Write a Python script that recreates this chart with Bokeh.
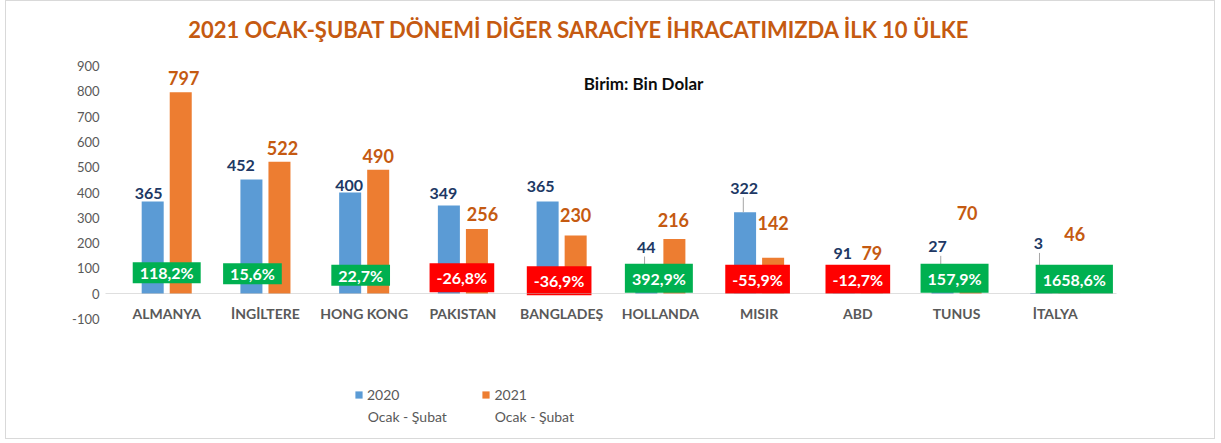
from bokeh.plotting import figure
from bokeh.models import (ColumnDataSource, Range1d, FactorRange, FixedTicker, Legend, LegendItem,
                          Label, CDSView, IndexFilter)
from bokeh.transform import dodge
from bokeh.core.properties import value
from bokeh.embed import file_html
from bokeh.resources import INLINE

# ---------------- data ----------------
countries = ["ALMANYA", "İNGİLTERE", "HONG KONG", "PAKISTAN", "BANGLADEŞ",
             "HOLLANDA", "MISIR", "ABD", "TUNUS", "İTALYA"]
v2020 = [365, 452, 400, 349, 365, 44, 322, 91, 27, 3]
v2021 = [797, 522, 490, 256, 230, 216, 142, 79, 70, 46]
change_pct = ["118,2%", "15,6%", "22,7%", "-26,8%", "-36,9%",
              "392,9%", "-55,9%", "-12,7%", "157,9%", "1658,6%"]
y_ticks = [-100, 0, 100, 200, 300, 400, 500, 600, 700, 800, 900]
series_years = ["2020", "2021"]
series_period = "Ocak - Şubat"
title_text = "2021 OCAK-ŞUBAT DÖNEMİ DİĞER SARACİYE İHRACATIMIZDA İLK  10 ÜLKE"
unit_text = "Birim: Bin Dolar"

# ---------------- label layout (pixel nudges, as placed in the original) ----------------
lbl20_dx = [-4, -10.5, -1, -5.5, -7, 0, -1, -1, -5, -3]
lbl20_dy = [-7.5, -13.5, -7, -11.6, -15, -35, -24, -17, -40, -49]
lbl21_dx = [3, 3, 0, 5.5, 0, -1, 0, 0, -3.5, 5.5]
lbl21_dy = [-14.5, -14, -14, -15, -21, -19, -35, -21, -63, -48]
box_dx = [0, -13, -3.5, -1, -2.5, -1.5, -1.5, 0, -2, 19]
box_dy = [-21, -20, -18.5, -16, -13, -15.5, -14.5, -14.5, -15.5, -14.5]

FONT = "Lato"
BLUE, ORANGE = "#5B9BD5", "#ED7D31"
GREEN, RED = "#00B050", "#FF0000"
GREY_TXT = "#595959"

Y_START, Y_END = -561, 1140
FRAME_H = 430  # px
PX_PER_UNIT = FRAME_H / (Y_END - Y_START)

# leader lines for labels pulled away from their bars (from bar top to label bottom)
leader_end = [v + ((-dy - 9) / PX_PER_UNIT if -dy > 20 else 0) for v, dy in zip(v2020, lbl20_dy)]

src = ColumnDataSource(dict(
    country=countries, v2020=v2020, v2021=v2021,
    s2020=[str(v) for v in v2020], s2021=[str(v) for v in v2021],
    pct=change_pct,
    box_color=[RED if s.startswith("-") else GREEN for s in change_pct],
    zero=[0] * len(countries),
    l20dx=lbl20_dx, l20dy=lbl20_dy, l21dx=lbl21_dx, l21dy=lbl21_dy,
    bdx=box_dx, bdy=box_dy, lead=leader_end,
))

x_range = FactorRange(factors=countries, range_padding=0.12, range_padding_units="absolute")
p = figure(width=1210, height=439, x_range=x_range, y_range=Range1d(Y_START, Y_END),
           output_backend="svg", toolbar_location=None,
           min_border_left=99, min_border_right=100, min_border_top=4, min_border_bottom=5)
p.outline_line_color = None
p.grid.visible = False
p.background_fill_color = "white"
p.border_fill_color = "white"
p.styles = {"border": "1px solid #D9D9D9", "margin-left": "5px"}

# axes
p.yaxis.ticker = FixedTicker(ticks=y_ticks)
p.yaxis.major_label_overrides = {-100: "-100"}
p.yaxis.axis_line_color = None
p.yaxis.major_tick_line_color = None
p.yaxis.minor_tick_line_color = None
p.yaxis.major_label_standoff = 0
p.yaxis.major_label_text_font = FONT
p.yaxis.major_label_text_font_size = "13px"
p.yaxis.major_label_text_color = GREY_TXT

p.xaxis.fixed_location = 0
p.xaxis.axis_line_color = "#BFBFBF"
p.xaxis.axis_line_dash = "1 1"
p.xaxis.major_tick_line_color = None
p.xaxis.minor_tick_line_color = None
p.xaxis.major_label_standoff = 5
p.xaxis.major_label_text_font = FONT
p.xaxis.major_label_text_font_style = "bold"
p.xaxis.major_label_text_font_size = "14px"
p.xaxis.major_label_text_color = GREY_TXT

# bars
r20 = p.vbar(x=dodge("country", -0.142, range=p.x_range), top="v2020", width=0.223,
             source=src, fill_color=BLUE, line_color=None)
r21 = p.vbar(x=dodge("country", 0.142, range=p.x_range), top="v2021", width=0.223,
             source=src, fill_color=ORANGE, line_color=None)

# leader lines
p.segment(x0=dodge("country", -0.16, range=p.x_range), y0="v2020",
          x1=dodge("country", -0.16, range=p.x_range), y1="lead", source=src,
          line_color="#A6A6A6", line_width=1)

# value labels
p.text(x=dodge("country", -0.142, range=p.x_range), y="v2020", text="s2020", source=src,
       x_offset="l20dx", y_offset="l20dy", text_align="center", text_baseline="middle",
       text_font=value(FONT), text_font_style="bold", text_font_size="16px",
       text_color="#203864")
p.text(x=dodge("country", 0.142, range=p.x_range), y="v2021", text="s2021", source=src,
       x_offset="l21dx", y_offset="l21dy", text_align="center", text_baseline="middle",
       text_font=value(FONT), text_font_style="bold", text_font_size="18px",
       text_color="#C55A11")

# change boxes
for idx, pad in (([0, 1, 2], dict(left=7, right=7, top=1, bottom=1)),
                 ([3, 4, 5, 6, 7, 8, 9], dict(left=7, right=7, top=5, bottom=5))):
    p.text(x="country", y="zero", text="pct", source=src, view=CDSView(filter=IndexFilter(idx)),
           x_offset="bdx", y_offset="bdy", text_align="center", text_baseline="middle",
           text_font=value(FONT), text_font_style="bold", text_font_size="16px",
           text_color="white", background_fill_color="box_color", padding=pad)

# title & unit
p.add_layout(Label(x=4.703, y=1046, text=title_text, text_align="center", text_baseline="middle",
                   text_font=FONT, text_font_style="bold", text_font_size="22px",
                   text_color="#C55A11"))
p.add_layout(Label(x=5.33, y=831, text=unit_text, text_align="center", text_baseline="middle",
                   text_font=FONT, text_font_style="bold", text_font_size="17px",
                   text_color="#0D0D0D"))

# legend (years), with the period line written beneath each entry
legend = Legend(items=[LegendItem(label=series_years[0], renderers=[r20]),
                       LegendItem(label=series_years[1], renderers=[r21])],
                orientation="horizontal", location=(249, 32),
                border_line_alpha=0, background_fill_alpha=0, padding=0, margin=0,
                glyph_width=9, glyph_height=9, label_standoff=4, spacing=82,
                label_height=14,
                label_text_font=FONT, label_text_font_size="14px", label_text_color=GREY_TXT)
p.add_layout(legend)
for xs in (2.535, 3.822):
    p.add_layout(Label(x=xs, y=-486, text=series_period, text_align="left", text_baseline="middle",
                       text_font=FONT, text_font_size="14px", text_color=GREY_TXT))

open("out.html", "w").write(file_html(p, INLINE))
